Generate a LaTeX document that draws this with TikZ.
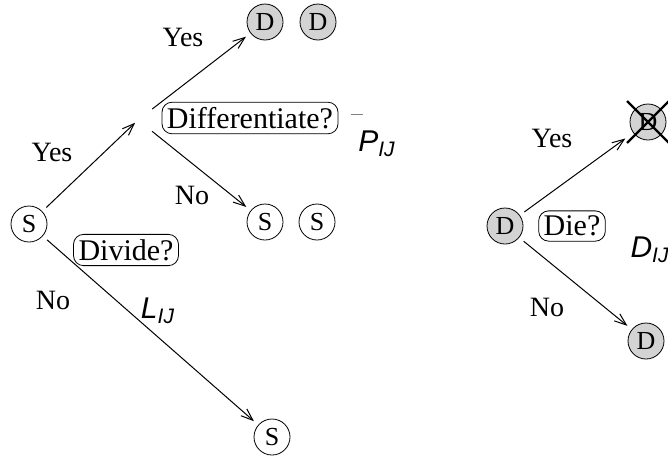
\documentclass[tikz,border=0pt]{standalone}
\usepackage{fontspec}
\setmainfont{Liberation Serif}
\setsansfont{Liberation Sans}
\usepackage{tikz}
\usetikzlibrary{arrows.meta}
\definecolor{cellgray}{RGB}{211, 211, 211}

\begin{document}
\begin{tikzpicture}[x=0.5pt, y=-0.5pt,
        font=\fontsize{14}{16}\selectfont,
        cell/.style={circle, draw, minimum size=18pt, inner sep=0pt, outer sep=3pt,
            font=\fontsize{13}{15}\selectfont},
        dcell/.style={cell, fill=cellgray},
        question/.style={draw, rounded corners=5pt, inner sep=2.5pt,
            font=\fontsize{15}{17}\selectfont},
        rate/.style={font=\fontsize{15}{17}\selectfont\sffamily\itshape},
        link/.style={line width=0.5pt, -{Straight Barb[length=6pt, width=4.5pt]}}]
        \useasboundingbox (0,0) rectangle (668,461);

        % Stem cell: divide?
        \node[cell] (stem) at (29,224) {S};
        \coordinate (split) at (138,120);
        \node[question] (divide) at (126,250) {Divide?};
        \node (yesdiv) at (52,152) {Yes};
        \node (nodiv) at (53,300) {No};
        \node[rate] (lrate) at (158,311) {L\textsubscript{IJ}};

        % Differentiate?
        \node[question] (differ) at (250,118) {Differentiate?};
        \node[dcell] (dtop) at (265,22) {D};
        \node[dcell] (dtop2) at (318,22) {D};
        \node[cell] (smid) at (265,222) {S};
        \node[cell] (smid2) at (317,222) {S};
        \node[cell] (sbot) at (272,437) {S};
        \node (yesdiff) at (183,37) {Yes};
        \node (nodiff) at (192,195) {No};
        \node[rate] (prate) at (377,135)
            {\rlap{\hspace{-3.5pt}\raisebox{18.5pt}{\color{gray}\rule{6pt}{0.4pt}}}P\textsubscript{IJ}};

        \draw[link, shorten >=2pt] (stem) -- (split);
        \draw[link, shorten <=9pt] (split) -- (dtop);
        \draw[link, shorten <=9pt] (split) -- (smid);
        \draw[link] (stem) -- (sbot);

        % Differentiated cell: die?
        \node[dcell] (dcell) at (505,226) {D};
        \node[question] (die) at (572,226) {Die?};
        \node[dcell] (ddead) at (648,122) {D};
        \node[dcell] (dlive) at (646,341) {D};
        \node (yesdie) at (552,138) {Yes};
        \node (nodie) at (547,307) {No};
        \node[rate] (drate) at (650,250) {D\textsubscript{IJ}};

        \draw[link, shorten >=2pt] (dcell) -- (ddead);
        \draw[link] (dcell) -- (dlive);

        % Cross over the dead cell
        \draw[line width=1.2pt] ([shift={(-21,-21)}]ddead.center) -- ([shift={(21,21)}]ddead.center);
        \draw[line width=1.2pt] ([shift={(-21,21)}]ddead.center) -- ([shift={(21,-21)}]ddead.center);
\end{tikzpicture}
\end{document}
